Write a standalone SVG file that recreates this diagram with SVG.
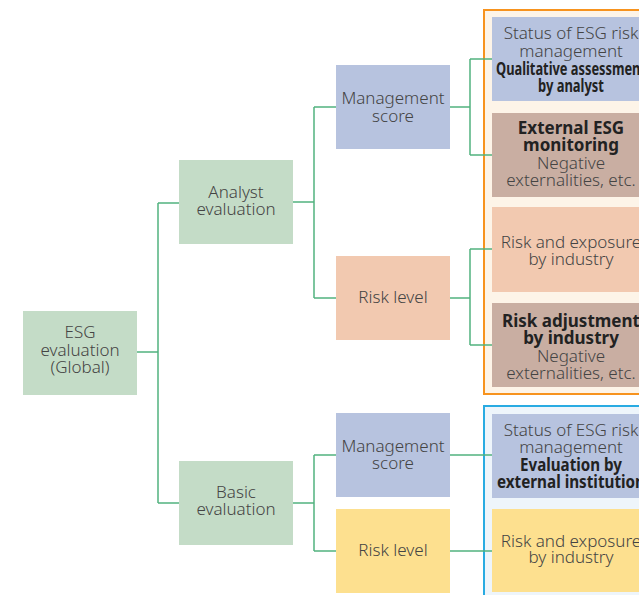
<svg xmlns="http://www.w3.org/2000/svg" width="639" height="595" viewBox="0 0 639 595">
<style>
text{font-family:"Noto Sans","Open Sans","DejaVu Sans",sans-serif;font-size:17px;font-weight:300;fill:#444;text-anchor:middle}
.b{font-weight:700;fill:#222}
.g{fill:#c4dcc7}
.m{fill:#b7c3df}
.r{fill:#f2c9b0}
.y{fill:#fde08f}
.br{fill:#c9aea2}
.c{fill:none;stroke:#52b27f;stroke-width:1.5}
</style>
<rect x="484" y="10" width="170" height="384" fill="#fdf4e8" stroke="#f7931e" stroke-width="2"/>
<rect x="484" y="406" width="170" height="200" fill="#eef5fb" stroke="#29abe2" stroke-width="2"/>
<g id="connectors">
<path class="c" d="M137,352H158M158,203V503M158,203H179M158,503H179"/>
<path class="c" d="M293,202H314M314,107V298M314,107H336M314,298H336"/>
<path class="c" d="M293,503H314M314,455V551M314,455H336M314,551H336"/>
<path class="c" d="M450,107H470M470,59V155M470,59H492M470,155H492"/>
<path class="c" d="M450,298H470M470,249V345M470,249H492M470,345H492"/>
<path class="c" d="M450,455H492M450,551H492"/>
</g>
<g id="esg"><rect class="g" x="23" y="311" width="114" height="84"/>
<text x="80" y="338">ESG</text><text x="80" y="356">evaluation</text><text x="80" y="373">(Global)</text></g>
<g id="analyst"><rect class="g" x="179" y="160" width="114" height="84"/>
<text x="236" y="198">Analyst</text><text x="236" y="215">evaluation</text></g>
<g id="basic"><rect class="g" x="179" y="461" width="114" height="84"/>
<text x="236" y="498">Basic</text><text x="236" y="515">evaluation</text></g>
<g id="mgmt1"><rect class="m" x="336" y="65" width="114" height="84"/>
<text x="393" y="104">Management</text><text x="393" y="122">score</text></g>
<g id="risk1"><rect class="r" x="336" y="256" width="114" height="84"/>
<text x="393" y="303">Risk level</text></g>
<g id="mgmt2"><rect class="m" x="336" y="413" width="114" height="84"/>
<text x="393" y="452">Management</text><text x="393" y="469">score</text></g>
<g id="risk2"><rect class="y" x="336" y="509" width="114" height="84"/>
<text x="393" y="556">Risk level</text></g>
<g id="status1"><rect class="m" x="492" y="17" width="160" height="84"/>
<text x="571" y="39">Status of ESG risk</text><text x="571" y="57">management</text>
<text class="b" x="571" y="75" textLength="150" lengthAdjust="spacingAndGlyphs">Qualitative assessment</text>
<text class="b" x="571" y="92" textLength="66" lengthAdjust="spacingAndGlyphs">by analyst</text></g>
<g id="extmon"><rect class="br" x="492" y="113" width="160" height="84"/>
<text class="b" x="571" y="134">External ESG</text><text class="b" x="571" y="151">monitoring</text>
<text x="571" y="169">Negative</text><text x="571" y="186">externalities, etc.</text></g>
<g id="riskexp1"><rect class="r" x="492" y="207" width="160" height="85"/>
<text x="571" y="248">Risk and exposure</text><text x="571" y="265">by industry</text></g>
<g id="riskadj"><rect class="br" x="492" y="303" width="160" height="84"/>
<text class="b" x="571" y="327">Risk adjustment</text><text class="b" x="571" y="344">by industry</text>
<text x="571" y="362">Negative</text><text x="571" y="379">externalities, etc.</text></g>
<g id="status2"><rect class="m" x="492" y="414" width="160" height="84"/>
<text x="571" y="436">Status of ESG risk</text><text x="571" y="453">management</text>
<text class="b" x="571" y="471" textLength="102" lengthAdjust="spacingAndGlyphs">Evaluation by</text>
<text class="b" x="571" y="488" textLength="148" lengthAdjust="spacingAndGlyphs">external institution</text></g>
<g id="riskexp2"><rect class="y" x="492" y="509" width="160" height="83"/>
<text x="571" y="547">Risk and exposure</text><text x="571" y="563">by industry</text></g>
</svg>
